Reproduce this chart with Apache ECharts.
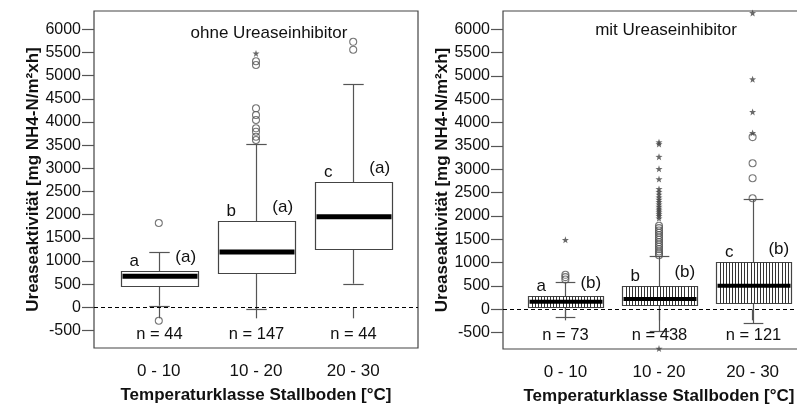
<!DOCTYPE html>
<html>
<head>
<meta charset="utf-8">
<script src="https://cdn.jsdelivr.net/npm/echarts@6/dist/echarts.min.js"></script>
<style>html,body{margin:0;padding:0;background:#fff}#c{width:797px;height:406px}</style>
</head>
<body>
<div id="c"></div>
<script>
// ---------- data ----------
const categories = ['0 - 10', '10 - 20', '20 - 30'];
const yTicks = [-500, 0, 500, 1000, 1500, 2000, 2500, 3000, 3500, 4000, 4500, 5000, 5500, 6000];

// [lower whisker, Q1, median, Q3, upper whisker]
const boxOhne = [
  [35, 460, 670, 790, 1187],
  [-37, 734, 1194, 1869, 3518],
  [510, 1258, 1955, 2711, 4820]
];
const circlesOhne = [
  [1820, -290],
  [3611, 3682, 3790, 3863, 4042, 4150, 4295, 5230, 5310],
  [5560, 5730]
];
const starsOhne = [[], [5480], []];
const lettersOhne = ['a', 'b', 'c'];
const groupOhne = ['(a)', '(a)', '(a)'];
const nOhne = [44, 147, 44];

const boxMit = [
  [-158, 60, 160, 285, 578],
  [-465, 92, 220, 506, 1142],
  [-300, 141, 506, 1013, 2364]
];
const circlesMit = [
  [640, 690, 740],
  [1160, 1200, 1240, 1290, 1340, 1390, 1440, 1490, 1540, 1590, 1640, 1690, 1740, 1790],
  [2380, 2810, 3130, 3690]
];
const starsMit = [
  [1490],
  [-840, 1950, 2000, 2040, 2080, 2120, 2160, 2200, 2250, 2300, 2350, 2400, 2460, 2520, 2580, 2790, 3010, 3270, 3540, 3580],
  [3780, 4230, 4930, 6350]
];
const lettersMit = ['a', 'b', 'c'];
const groupMit = ['(b)', '(b)', '(b)'];
const nMit = [73, 438, 121];

const titleOhne = 'ohne Ureaseinhibitor';
const titleMit = 'mit Ureaseinhibitor';
const yName = 'Ureaseaktivität [mg NH4-N/m²xh]';
const xName = 'Temperaturklasse Stallboden [°C]';

// ---------- rendering ----------
const FONT = '"Liberation Sans", Arial, sans-serif';
const BOX_W = 0.8, CAP_W = 0.21;
const STAR = 'path://M0,-10L2.35,-3.24L9.51,-3.09L3.8,1.24L5.88,8.09L0,4L-5.88,8.09L-3.8,1.24L-9.51,-3.09L-2.35,-3.24Z';

function boxData(b) { return b.map((r, i) => [i + 1].concat(r)); }
function pts(list) { const out = []; list.forEach((vs, i) => vs.forEach(v => out.push([i + 1, v]))); return out; }

function makeRender(letters, groups, ns, hatch, medW, nY) {
  return function (params, api) {
    const i = params.dataIndex;
    const x = api.value(0);
    const lo = api.coord([x, api.value(1)]);
    const q1 = api.coord([x, api.value(2)]);
    const md = api.coord([x, api.value(3)]);
    const q3 = api.coord([x, api.value(4)]);
    const hi = api.coord([x, api.value(5)]);
    const unit = api.size([1, 0])[0];
    const half = unit * BOX_W / 2;
    const capH = unit * CAP_W / 2;
    const cx = Math.round(q1[0]) + 0.5;
    const L = Math.round(cx - half) + 0.5, R = Math.round(cx + half) + 0.5;
    const T = Math.round(q3[1]) + 0.5, B = Math.round(q1[1]) + 0.5;
    const wl = { stroke: '#555', lineWidth: 1.2 };
    const ch = [];
    ch.push({ type: 'line', shape: { x1: cx, y1: lo[1], x2: cx, y2: B }, style: wl });
    ch.push({ type: 'line', shape: { x1: cx, y1: T, x2: cx, y2: hi[1] }, style: wl });
    ch.push({ type: 'line', shape: { x1: cx - capH, y1: Math.round(lo[1]) + 0.5, x2: cx + capH, y2: Math.round(lo[1]) + 0.5 }, style: wl });
    ch.push({ type: 'line', shape: { x1: cx - capH, y1: Math.round(hi[1]) + 0.5, x2: cx + capH, y2: Math.round(hi[1]) + 0.5 }, style: wl });
    ch.push({ type: 'rect', shape: { x: L, y: T, width: R - L, height: B - T }, style: { fill: '#fff', stroke: '#444', lineWidth: 1.2 } });
    if (hatch) {
      for (let hx = L + 3; hx < R - 1; hx += 3.1) {
        const px = Math.round(hx) + 0.5;
        ch.push({ type: 'line', shape: { x1: px, y1: T, x2: px, y2: B }, style: { stroke: '#333', lineWidth: 1 } });
      }
    }
    ch.push({ type: 'line', shape: { x1: L + 1, y1: md[1], x2: R - 1, y2: md[1] }, style: { stroke: '#000', lineWidth: medW } });
    const tf = '17px ' + FONT;
    ch.push({ type: 'text', x: cx - 0.26 * unit, y: q3[1] - 9.5, style: { text: letters[i], fill: '#111', font: tf, align: 'center', verticalAlign: 'middle' } });
    ch.push({ type: 'text', x: cx + 0.27 * unit, y: q3[1] - 13, style: { text: groups[i], fill: '#111', font: tf, align: 'center', verticalAlign: 'middle' } });
    const ny = api.coord([x, nY])[1];
    ch.push({ type: 'text', x: cx, y: ny, style: { text: 'n = ' + ns[i], fill: '#111', font: '16.5px ' + FONT, align: 'center', verticalAlign: 'middle' } });
    return { type: 'group', children: ch };
  };
}

function xAxisCfg(gi) {
  return {
    type: 'value', gridIndex: gi, min: 1 / 3, max: 11 / 3,
    splitLine: { show: false }, axisLine: { show: false },
    axisTick: { show: true, length: 11, customValues: [1, 2, 3], lineStyle: { color: '#555', width: 1.2 } },
    axisLabel: { customValues: [1, 2, 3], margin: 15, fontSize: 17, fontFamily: FONT, color: '#111', formatter: v => categories[Math.round(v) - 1] },
    name: xName, nameLocation: 'middle', nameGap: 39,
    nameTextStyle: { fontSize: 17, fontWeight: 'bold', fontFamily: FONT, color: '#111' }
  };
}
function yAxisCfg(gi, min, max, gap) {
  return {
    type: 'value', gridIndex: gi, min: min, max: max,
    splitLine: { show: false }, axisLine: { show: false },
    axisTick: { show: true, length: 12, customValues: yTicks, lineStyle: { color: '#555', width: 1.2 } },
    axisLabel: { customValues: yTicks, margin: 13, fontSize: 16, fontFamily: FONT, color: '#111', formatter: v => String(v) },
    name: yName, nameLocation: 'middle', nameGap: gap,
    nameTextStyle: { fontSize: 17, fontWeight: 'bold', fontFamily: FONT, color: '#111' }
  };
}

const circleStyle = { color: 'rgba(0,0,0,0)', borderColor: '#555', borderWidth: 1.1 };
const starStyle = { color: '#444' };
const zeroLine = { silent: true, symbol: 'none', label: { show: false }, lineStyle: { type: [4, 3], color: '#000', width: 1 }, data: [{ yAxis: 0 }] };

const option = {
  animation: false,
  backgroundColor: '#fff',
  title: [
    { text: titleOhne, left: 264, top: 20, textAlign: 'center', textStyle: { fontSize: 17, fontWeight: 'normal', fontFamily: FONT, color: '#111' } },
    { text: titleMit, left: 661, top: 17, textAlign: 'center', textStyle: { fontSize: 17, fontWeight: 'normal', fontFamily: FONT, color: '#111' } }
  ],
  grid: [
    { left: 94, top: 11, width: 324, height: 337, show: true, borderColor: '#444', borderWidth: 1.2, backgroundColor: 'transparent', outerBoundsMode: 'none', containLabel: false },
    { left: 503, top: 11, width: 312, height: 338, show: true, borderColor: '#444', borderWidth: 1.2, backgroundColor: 'transparent', outerBoundsMode: 'none', containLabel: false }
  ],
  xAxis: [xAxisCfg(0), xAxisCfg(1)],
  yAxis: [yAxisCfg(0, -878, 6395, 43), yAxisCfg(1, -850, 6392, 43)],
  series: [
    { type: 'custom', xAxisIndex: 0, yAxisIndex: 0, data: boxData(boxOhne), encode: { x: 0, y: [1, 2, 3, 4, 5] },
      renderItem: makeRender(lettersOhne, groupOhne, nOhne, false, 5, -580), markLine: zeroLine, z: 2 },
    { type: 'scatter', xAxisIndex: 0, yAxisIndex: 0, data: pts(circlesOhne), symbol: 'circle', symbolSize: 7, itemStyle: circleStyle, z: 3 },
    { type: 'scatter', xAxisIndex: 0, yAxisIndex: 0, data: pts(starsOhne), symbol: STAR, symbolSize: 7, itemStyle: starStyle, z: 3 },
    { type: 'custom', xAxisIndex: 1, yAxisIndex: 1, data: boxData(boxMit), encode: { x: 0, y: [1, 2, 3, 4, 5] },
      renderItem: makeRender(lettersMit, groupMit, nMit, true, 4, -560), markLine: zeroLine, z: 2 },
    { type: 'scatter', xAxisIndex: 1, yAxisIndex: 1, data: pts(circlesMit), symbol: 'circle', symbolSize: 7, itemStyle: circleStyle, z: 3 },
    { type: 'scatter', xAxisIndex: 1, yAxisIndex: 1, data: pts(starsMit), symbol: STAR, symbolSize: 7, itemStyle: starStyle, z: 3 }
  ]
};

const chart = echarts.init(document.getElementById('c'), null, { renderer: 'canvas' });
chart.setOption(option);
</script>
</body>
</html>
